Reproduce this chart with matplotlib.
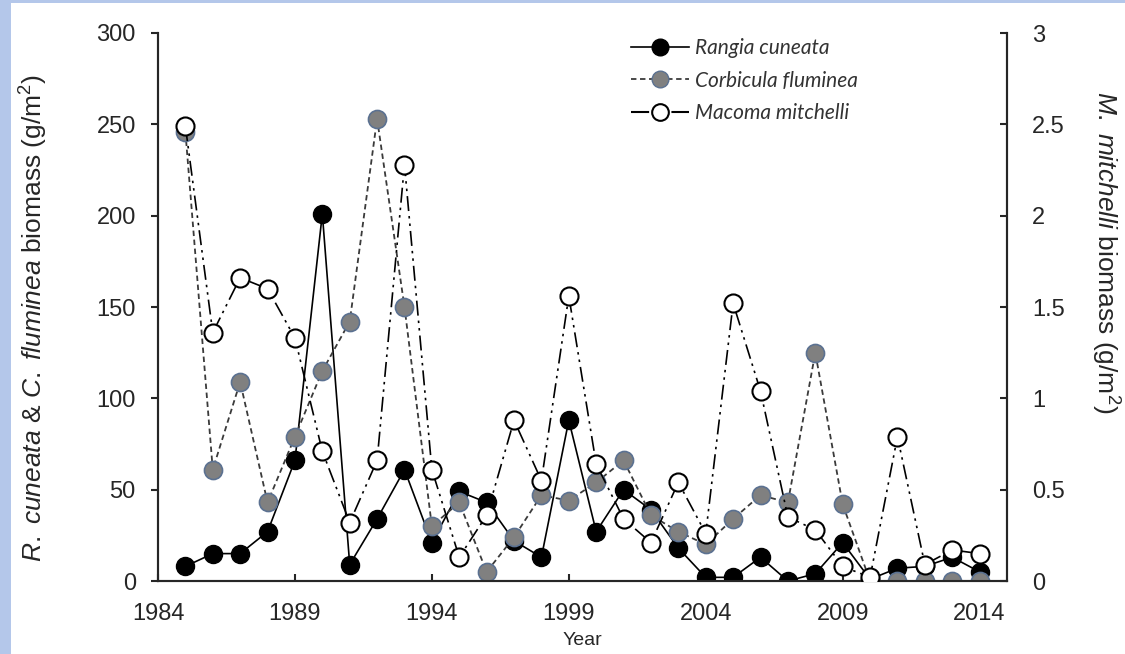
import matplotlib
matplotlib.use("Agg")
from matplotlib import pyplot as plt
from matplotlib.patches import Rectangle
from matplotlib.lines import Line2D

plt.rcParams['font.family'] = ['Liberation Sans', 'DejaVu Sans']
plt.rcParams['mathtext.fontset'] = 'custom'
plt.rcParams['mathtext.rm'] = 'Liberation Sans'
plt.rcParams['mathtext.it'] = 'Liberation Sans:italic'

# Annual mean biomass per species
years = list(range(1985, 2015))
rangia = [8, 15, 15, 27, 66, 201, 9, 34, 61, 21, 49, 43, 22, 13, 88,
          27, 50, 39, 18, 2, 2, 13, 0, 4, 21, 1, 7, 8, 13, 5]
corbicula = [246, 61, 109, 43, 79, 115, 142, 253, 150, 30, 43, 5, 24, 47, 44,
             54, 66, 36, 27, 20, 34, 47, 43, 125, 42, 0, 0, 0, 0, 0]
macoma = [2.49, 1.36, 1.66, 1.60, 1.33, 0.71, 0.32, 0.66, 2.28, 0.61, 0.13, 0.36, 0.88, 0.55, 1.56,
          0.64, 0.34, 0.21, 0.54, 0.26, 1.52, 1.04, 0.35, 0.28, 0.08, 0.02, 0.79, 0.09, 0.17, 0.15]

x_ticks = [1984, 1989, 1994, 1999, 2004, 2009, 2014]
left_ticks = [0, 50, 100, 150, 200, 250, 300]
right_ticks = [0, 0.5, 1, 1.5, 2, 2.5, 3]
right_labels = ['0', '0.5', '1', '1.5', '2', '2.5', '3']

ink = '#262626'

fig = plt.figure(figsize=(11.25, 6.54), dpi=100, facecolor='white')
# blue slide border on the left and top edges
fig.patches.append(Rectangle((0, 0), 11 / 1125, 1, transform=fig.transFigure,
                             facecolor='#b4c7ea', edgecolor='none', zorder=-5))
fig.patches.append(Rectangle((0, 1 - 3 / 654), 1, 3 / 654, transform=fig.transFigure,
                             facecolor='#b4c7ea', edgecolor='none', zorder=-5))

ax = fig.add_axes([158 / 1125, 1 - 581 / 654, (1007 - 158) / 1125, (581 - 33) / 654])
ax.set_facecolor('none')
ax2 = ax.twinx()

ms = 13
ax.plot(years, rangia, color='black', lw=1.2, marker='o', ms=ms,
        mfc='black', mec='black', zorder=3)
ax.plot(years, corbicula, color='#3a3a3a', lw=1.3, ls=(0, (3, 2)), marker='o', ms=ms,
        mfc='#808080', mec='#5b7191', mew=1.2, zorder=4)
ax2.plot(years, macoma, color='black', lw=1.2, ls=(0, (9, 3, 1.5, 3, 1.5, 3)), marker='o', ms=ms,
         mfc='white', mec='black', mew=1.5, zorder=5)

ax.set_xlim(1984, 2015)
ax.set_ylim(0, 300)
ax2.set_ylim(0, 3)
ax.set_xticks(x_ticks)
ax.set_yticks(left_ticks)
ax2.set_yticks(right_ticks)
ax2.set_yticklabels(right_labels)

for a in (ax, ax2):
    a.spines['top'].set_visible(False)
    for s in ('left', 'right', 'bottom'):
        a.spines[s].set_linewidth(1.5)
        a.spines[s].set_color(ink)

ax.tick_params(axis='x', direction='in', length=5, width=1.5, color=ink,
               labelsize=17, labelcolor=ink, pad=16)
ax.tick_params(axis='y', direction='out', length=5, width=1.5, color=ink,
               labelsize=17, labelcolor=ink, pad=11)
ax2.tick_params(axis='y', direction='in', length=5, width=1.5, color=ink,
                labelsize=17, labelcolor=ink, pad=18)

ax.set_xlabel('Year', fontsize=14, color=ink)
ax.xaxis.set_label_coords(0.5, -0.093)
ax.set_ylabel(r'$\mathit{R.\ cuneata}$ & $\mathit{C.\ fluminea}$ biomass (g/m$^2$)',
              fontsize=19, color=ink)
ax.yaxis.set_label_coords(-0.127, 0.48)
ax2.set_ylabel(r'$\mathit{M.\ mitchelli}$ biomass (g/m$^2$)', fontsize=19,
               color=ink, rotation=270, va='center')
ax2.yaxis.set_label_coords(1.116, 0.6)

# dash lengths scale with line width, so the Macoma key uses a short on/off pair
handles = [
    Line2D([], [], color='black', lw=1.2, marker='o', ms=12, mfc='black', mec='black'),
    Line2D([], [], color='#3a3a3a', lw=1.3, ls=(0, (3, 2)), marker='o', ms=12,
           mfc='#808080', mec='#5b7191'),
    Line2D([], [], color='black', lw=1.5, ls=(0, (8.7, 10.7)), marker='o', ms=12,
           mfc='white', mec='black', mew=1.5),
]
labels = ['Rangia cuneata', 'Corbicula fluminea', 'Macoma mitchelli']
leg = ax2.legend(handles, labels, loc='upper left', bbox_to_anchor=(0.535, 1.025), frameon=False,
                 prop={'family': 'Lato', 'style': 'italic', 'size': 15}, handlelength=2.8,
                 handletextpad=0.25, labelspacing=0.6, labelcolor='#333333')

fig.savefig('out.png', dpi=100)
